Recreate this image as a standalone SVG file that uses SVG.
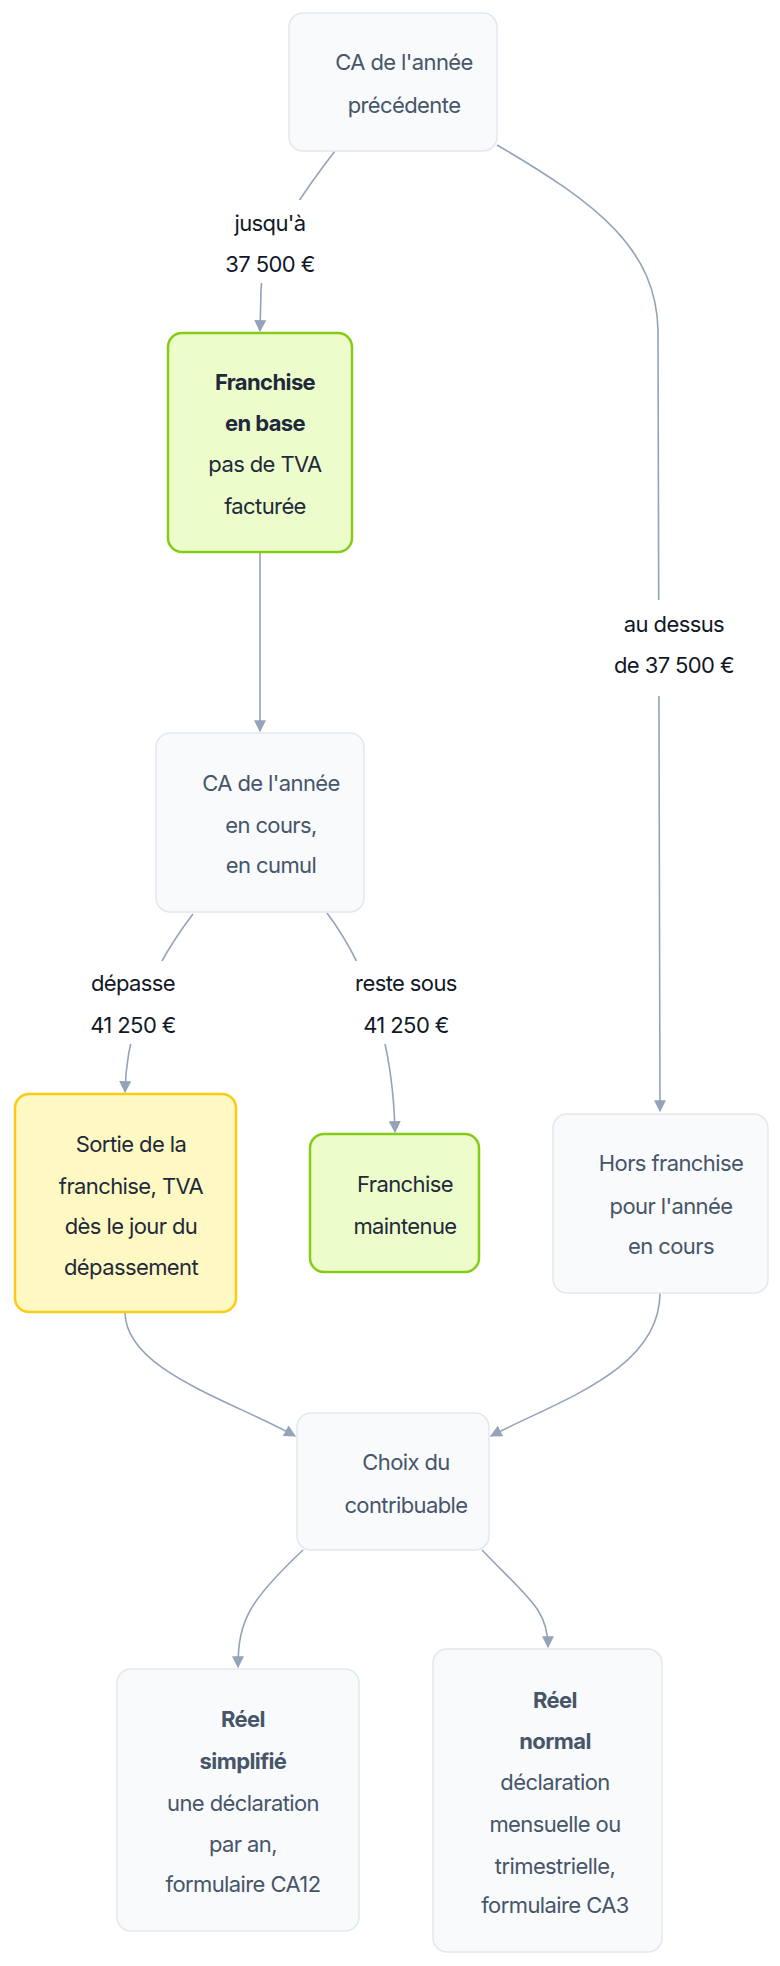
<svg xmlns="http://www.w3.org/2000/svg" width="780" height="1966" viewBox="0 0 780 1966">
<style>
.n{fill:#f8fafc;stroke:#e2e8f0;stroke-width:1.5}
.g{fill:#ecfccb;stroke:#84cc16;stroke-width:2.5}
.y{fill:#fef9c3;stroke:#facc15;stroke-width:2.5}
text{font-family:Inter,"Noto Sans",sans-serif;font-size:22px;text-anchor:middle;letter-spacing:-0.6px}
.t{fill:#475569}
.d{fill:#1e293b}
.l{fill:#111827}
.b{font-weight:700}
.e{fill:none;stroke:#94a3b8;stroke-width:1.6;marker-end:url(#a)}
.lb{fill:#fff}
</style>
<defs><marker id="a" viewBox="0 0 10 10" refX="9" refY="5" markerWidth="12" markerHeight="12" markerUnits="userSpaceOnUse" orient="auto"><path d="M0,0L10,5L0,10z" fill="#94a3b8"/></marker></defs>
<rect width="780" height="1966" fill="#fff"/>
<g id="edges">
<path class="e" d="M335,151 Q262,245 261,290 L260,331"/>
<path class="e" d="M497,145 C600,205 656,250 658,330 L660,1111"/>
<path class="e" d="M260,552 L260,731"/>
<path class="e" d="M193,914 Q127,1000 125,1092"/>
<path class="e" d="M327,913 Q392,1000 395,1132"/>
<path class="e" d="M125,1312 C125,1370 230,1400 295,1436"/>
<path class="e" d="M660,1293 C660,1370 560,1400 491,1436"/>
<path class="e" d="M303,1550 C250,1600 238,1620 238,1667"/>
<path class="e" d="M482,1550 C530,1600 548,1610 548,1647"/>
</g>
<g id="labels">
<rect class="lb" x="205" y="200" width="130" height="83"/>
<text class="l" x="270" y="231">jusqu'à</text><text class="l" x="270" y="272">37 500 €</text>
<rect class="lb" x="590" y="600" width="170" height="96"/>
<text class="l" x="674" y="632">au dessus</text><text class="l" x="674" y="673">de 37 500 €</text>
<rect class="lb" x="70" y="961" width="126" height="83"/>
<text class="l" x="133" y="991">dépasse</text><text class="l" x="133" y="1033">41 250 €</text>
<rect class="lb" x="336" y="961" width="140" height="83"/>
<text class="l" x="406" y="991">reste sous</text><text class="l" x="406" y="1033">41 250 €</text>
</g>
<g id="n1"><rect class="n" x="289" y="13" width="208" height="138" rx="14"/>
<text class="t" x="404" y="70">CA de l'année</text><text class="t" x="404" y="113">précédente</text></g>
<g id="n2"><rect class="g" x="168" y="333" width="184" height="219" rx="14"/>
<text class="d b" x="265" y="390">Franchise</text><text class="d b" x="265" y="431">en base</text><text class="d" x="265" y="472">pas de TVA</text><text class="d" x="265" y="514">facturée</text></g>
<g id="n3"><rect class="n" x="156" y="733" width="208" height="179" rx="14"/>
<text class="t" x="271" y="791">CA de l'année</text><text class="t" x="271" y="833">en cours,</text><text class="t" x="271" y="873">en cumul</text></g>
<g id="n4"><rect class="y" x="15" y="1094" width="221" height="218" rx="14"/>
<text class="d" x="131" y="1152">Sortie de la</text><text class="d" x="131" y="1194">franchise, TVA</text><text class="d" x="131" y="1234">dès le jour du</text><text class="d" x="131" y="1275">dépassement</text></g>
<g id="n5"><rect class="g" x="310" y="1134" width="169" height="138" rx="14"/>
<text class="d" x="405" y="1192">Franchise</text><text class="d" x="405" y="1234">maintenue</text></g>
<g id="n6"><rect class="n" x="553" y="1114" width="215" height="179" rx="14"/>
<text class="t" x="671" y="1171">Hors franchise</text><text class="t" x="671" y="1214">pour l'année</text><text class="t" x="671" y="1254">en cours</text></g>
<g id="n7"><rect class="n" x="297" y="1413" width="192" height="137" rx="14"/>
<text class="t" x="406" y="1470">Choix du</text><text class="t" x="406" y="1513">contribuable</text></g>
<g id="n8"><rect class="n" x="117" y="1669" width="242" height="262" rx="14"/>
<text class="t b" x="243" y="1727">Réel</text><text class="t b" x="243" y="1769">simplifié</text><text class="t" x="243" y="1811">une déclaration</text><text class="t" x="243" y="1852">par an,</text><text class="t" x="243" y="1892">formulaire CA12</text></g>
<g id="n9"><rect class="n" x="433" y="1649" width="229" height="303" rx="14"/>
<text class="t b" x="555" y="1708">Réel</text><text class="t b" x="555" y="1749">normal</text><text class="t" x="555" y="1790">déclaration</text><text class="t" x="555" y="1832">mensuelle ou</text><text class="t" x="555" y="1874">trimestrielle,</text><text class="t" x="555" y="1913">formulaire CA3</text></g>
</svg>
